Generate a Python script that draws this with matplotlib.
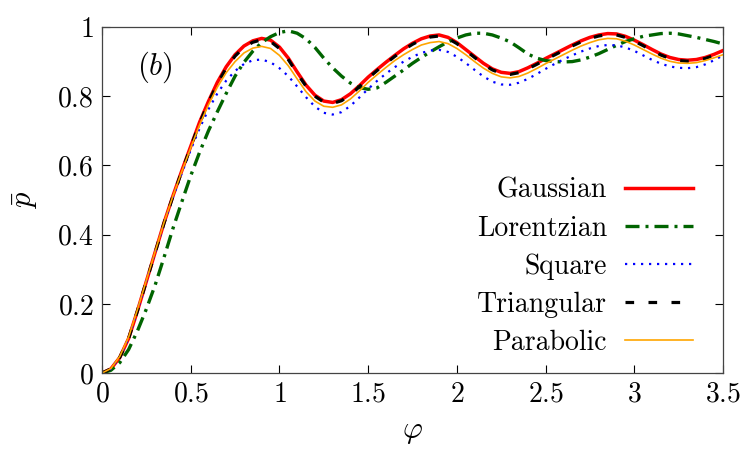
import numpy as np
import matplotlib
matplotlib.use("Agg")
import matplotlib.pyplot as plt

# phase grid (step 0.05) and mean probability for each pulse shape
phi = np.round(np.arange(0, 3.501, 0.05), 2)

gaussian = [0.000, 0.012, 0.045, 0.100, 0.180, 0.265, 0.350, 0.435, 0.512, 0.585,
            0.655, 0.725, 0.785, 0.840, 0.885, 0.920, 0.945, 0.960, 0.967, 0.962,
            0.942, 0.910, 0.870, 0.832, 0.803, 0.786, 0.782, 0.790, 0.807, 0.830,
            0.855, 0.877, 0.898, 0.918, 0.937, 0.953, 0.966, 0.974, 0.977, 0.970,
            0.955, 0.935, 0.915, 0.895, 0.879, 0.869, 0.866, 0.871, 0.882, 0.895,
            0.909, 0.922, 0.935, 0.948, 0.960, 0.970, 0.977, 0.981, 0.980, 0.973,
            0.962, 0.949, 0.935, 0.922, 0.912, 0.906, 0.904, 0.906, 0.912, 0.921,
            0.932]

lorentzian = [0.000, 0.008, 0.030, 0.068, 0.122, 0.185, 0.255, 0.335, 0.418, 0.495,
              0.570, 0.638, 0.700, 0.755, 0.808, 0.858, 0.898, 0.930, 0.955, 0.972,
              0.984, 0.989, 0.982, 0.966, 0.941, 0.910, 0.882, 0.858, 0.838, 0.825,
              0.820, 0.824, 0.840, 0.858, 0.876, 0.895, 0.912, 0.928, 0.943, 0.957,
              0.968, 0.977, 0.982, 0.982, 0.977, 0.968, 0.957, 0.940, 0.922, 0.910,
              0.903, 0.900, 0.899, 0.900, 0.905, 0.913, 0.923, 0.935, 0.947, 0.958,
              0.966, 0.973, 0.977, 0.981, 0.982, 0.980, 0.975, 0.970, 0.964, 0.958,
              0.951]

square = [0.000, 0.012, 0.046, 0.101, 0.181, 0.266, 0.350, 0.433, 0.508, 0.578,
          0.645, 0.707, 0.762, 0.808, 0.845, 0.873, 0.893, 0.904, 0.906, 0.898,
          0.881, 0.858, 0.828, 0.797, 0.770, 0.752, 0.747, 0.754, 0.772, 0.796,
          0.821, 0.844, 0.865, 0.884, 0.900, 0.914, 0.925, 0.932, 0.934, 0.928,
          0.914, 0.896, 0.876, 0.857, 0.842, 0.834, 0.833, 0.839, 0.850, 0.864,
          0.879, 0.893, 0.906, 0.918, 0.929, 0.938, 0.945, 0.948, 0.947, 0.941,
          0.931, 0.918, 0.905, 0.894, 0.886, 0.882, 0.881, 0.884, 0.892, 0.904,
          0.918]

triangular = [0.000, 0.012, 0.045, 0.100, 0.180, 0.265, 0.349, 0.434, 0.511, 0.583,
              0.653, 0.722, 0.782, 0.836, 0.881, 0.916, 0.941, 0.956, 0.963, 0.958,
              0.938, 0.906, 0.866, 0.829, 0.800, 0.783, 0.779, 0.787, 0.804, 0.827,
              0.852, 0.874, 0.895, 0.915, 0.934, 0.950, 0.963, 0.971, 0.974, 0.967,
              0.952, 0.932, 0.912, 0.892, 0.876, 0.866, 0.863, 0.868, 0.879, 0.892,
              0.906, 0.919, 0.932, 0.945, 0.957, 0.967, 0.974, 0.978, 0.977, 0.970,
              0.959, 0.946, 0.932, 0.919, 0.909, 0.903, 0.901, 0.903, 0.909, 0.918,
              0.929]

parabolic = [0.000, 0.013, 0.048, 0.104, 0.184, 0.268, 0.352, 0.436, 0.512, 0.583,
             0.651, 0.717, 0.775, 0.826, 0.868, 0.900, 0.925, 0.939, 0.944, 0.938,
             0.918, 0.888, 0.850, 0.813, 0.786, 0.771, 0.768, 0.775, 0.792, 0.815,
             0.840, 0.862, 0.883, 0.903, 0.920, 0.935, 0.948, 0.955, 0.958, 0.952,
             0.938, 0.920, 0.900, 0.881, 0.866, 0.856, 0.853, 0.857, 0.867, 0.880,
             0.894, 0.907, 0.920, 0.933, 0.945, 0.955, 0.963, 0.967, 0.966, 0.959,
             0.948, 0.935, 0.922, 0.910, 0.901, 0.896, 0.895, 0.897, 0.903, 0.911,
             0.920]

xticks = [0, 0.5, 1, 1.5, 2, 2.5, 3, 3.5]
yticks = [0, 0.2, 0.4, 0.6, 0.8, 1]

plt.rcParams['mathtext.fontset'] = 'cm'
plt.rcParams['font.family'] = 'serif'
plt.rcParams['font.serif'] = ['cmr10', 'DejaVu Serif']
plt.rcParams['axes.formatter.use_mathtext'] = True
plt.rcParams['axes.unicode_minus'] = False

fig = plt.figure(figsize=(7.5, 4.5), dpi=100)
ax = fig.add_axes([0.136, 0.171, 0.828, 0.769])

ax.plot(phi, gaussian, color='#ff0000', lw=2.5, label='Gaussian')
ax.plot(phi, lorentzian, color='#006400', lw=2.4,
        linestyle=(0, (4.2, 1.8, 0.9, 1.8)), label='Lorentzian')
ax.plot(phi, square, color='#0000ff', lw=1.6,
        linestyle=(0, (1, 2.6)), label='Square')
ax.plot(phi, triangular, color='black', lw=2.3,
        linestyle=(0, (2.7, 4.5)), label='Triangular')
ax.plot(phi, parabolic, color='#ffa500', lw=1.2, label='Parabolic')

ax.set_xlim(0, 3.5)
ax.set_ylim(0, 1)
ax.set_xticks(xticks)
ax.set_xticklabels(['$%g$' % t for t in xticks])
ax.set_yticks(yticks)
ax.set_yticklabels(['$%g$' % t for t in yticks])
ax.tick_params(direction='in', length=6, width=0.8, top=True, right=True,
               labelsize=20, colors='black', pad=6)
for s in ax.spines.values():
    s.set_color('#444444')
    s.set_linewidth(0.9)

ax.set_xlabel(r'$\varphi$', fontsize=22, labelpad=8)
ax.set_ylabel(r'$\bar{p}$', fontsize=22, labelpad=12)
ax.text(0.3, 0.885, r'$(b)$', fontsize=22, ha='center', va='center')

leg = ax.legend(loc='lower right', bbox_to_anchor=(0.952, 0.05), frameon=False,
                markerfirst=False, fontsize=20, handlelength=2.45,
                labelspacing=0.42, handletextpad=0.65, borderpad=0,
                borderaxespad=0)
for t in leg.get_texts():
    t.set_ha('right')

fig.savefig('out.png', dpi=100)
